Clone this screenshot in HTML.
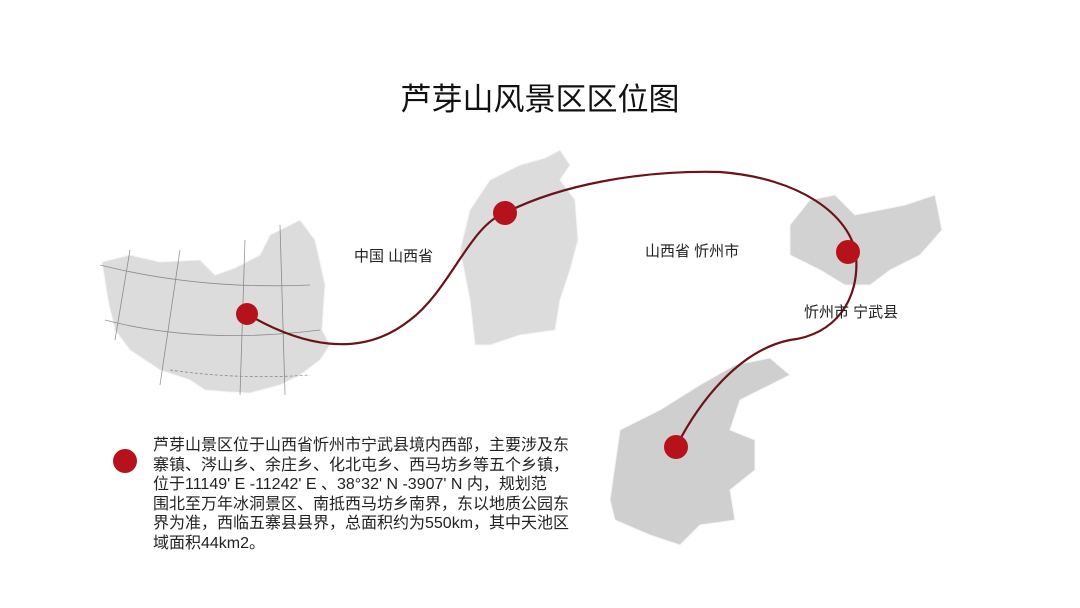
<!DOCTYPE html>
<html><head><meta charset="utf-8"><style>
body{margin:0;width:1080px;height:608px;background:#fff;overflow:hidden;position:relative;font-family:"Liberation Sans","Noto Sans CJK SC",sans-serif;color:#222}
.t{position:absolute;white-space:nowrap}
</style></head><body>
<svg width="1080" height="608" style="position:absolute;left:0;top:0">
<g fill="#dcdcdc" stroke="#f4f4f4" stroke-width="1">
<polygon points="102,262 130,255 160,262 200,260 215,275 235,268 260,255 270,235 290,225 300,220 315,240 320,262 325,285 322,330 330,345 320,360 300,375 280,385 250,393 230,392 205,390 190,380 160,370 130,350 115,330 108,300"/>
<polygon points="470,210 490,180 520,165 545,158 560,150 570,165 560,180 575,200 578,240 570,270 560,300 555,330 520,335 490,345 475,345 470,300 460,250"/>
<polygon points="790,225 810,200 835,195 855,215 880,210 905,205 935,195 942,230 920,255 890,270 870,285 845,285 820,270 790,255" fill="#d2d2d2"/>
<polygon points="610,500 620,430 660,410 700,385 735,365 770,358 790,375 760,390 740,400 730,430 755,440 755,470 730,490 735,520 700,525 680,545 650,535 615,520" fill="#cfcfcf"/>
</g>
<g stroke="#555" stroke-width="0.8" fill="none" opacity="0.6">
<path d="M100,265 Q200,290 310,285"/><path d="M105,320 Q200,345 320,330"/>
<path d="M130,250 L115,340"/><path d="M180,250 L160,385"/><path d="M245,240 L240,395"/><path d="M280,225 L285,395"/>
<path d="M170,370 Q240,380 310,375" stroke-dasharray="3 2"/>
</g>
<path d="M247,314 C300,345 360,360 410,320 C450,290 470,225 505,213 C560,185 640,170 720,172 C800,178 850,215 856,255 C860,300 835,335 790,340 C740,350 700,400 676,447" fill="none" stroke="#6b1418" stroke-width="2.2"/>
<g fill="#b5121b">
<circle cx="247" cy="314" r="11"/><circle cx="505" cy="213" r="12"/><circle cx="848" cy="252" r="12"/><circle cx="676" cy="447" r="12"/><circle cx="125" cy="461" r="12"/>
</g>
</svg>
<div class="t" style="left:0;width:1080px;text-align:center;top:74px;font-size:31px;color:#111">芦芽山风景区区位图</div>
<div class="t" style="left:354px;top:245px;font-size:15px">中国 山西省</div>
<div class="t" style="left:645px;top:240px;font-size:15px">山西省 忻州市</div>
<div class="t" style="left:804px;top:301px;font-size:15px">忻州市 宁武县</div>
<div class="t" style="left:153px;top:436px;font-size:16px;line-height:19.6px">芦芽山景区位于山西省忻州市宁武县境内西部，主要涉及东<br>寨镇、涔山乡、余庄乡、化北屯乡、西马坊乡等五个乡镇，<br>位于11149' E -11242' E 、38°32' N -3907' N 内，规划范<br>围北至万年冰洞景区、南抵西马坊乡南界，东以地质公园东<br>界为准，西临五寨县县界，总面积约为550km，其中天池区<br>域面积44km2。</div>
</body></html>
